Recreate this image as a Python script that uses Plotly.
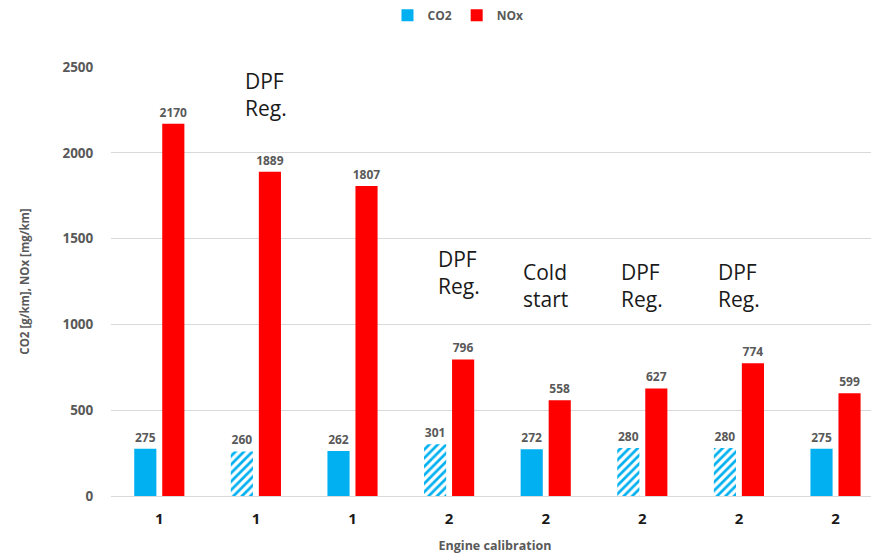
import plotly.graph_objects as go

# ---- data ----
tick_labels = ["1", "1", "1", "2", "2", "2", "2", "2"]
co2 = [275, 260, 262, 301, 272, 280, 280, 275]
nox = [2170, 1889, 1807, 796, 558, 627, 774, 599]
co2_hatched = [False, True, False, True, False, True, True, False]
notes = ["", "DPF<br>Reg.", "", "DPF<br>Reg.", "Cold<br>start", "DPF<br>Reg.", "DPF<br>Reg.", ""]
note_y = [None, 2170, None, 1130, 1055, 1055, 1055, None]

x = list(range(len(tick_labels)))

BLUE = "#00B0F0"
RED = "#FF0000"
GRAY = "#595959"
FONT = "Open Sans"

fig = go.Figure()
fig.add_trace(go.Bar(
    x=x, y=co2, name="CO2",
    marker=dict(
        color=BLUE,
        line=dict(width=0),
        pattern=dict(
            shape=["/" if h else "" for h in co2_hatched],
            fgcolor=BLUE, bgcolor="white", fillmode="replace",
            size=6, solidity=0.45,
        ),
    ),
    text=[str(v) for v in co2], textposition="outside", constraintext="none",
    textfont=dict(size=12, color=GRAY, family=FONT, weight="bold"),
    cliponaxis=False,
))
fig.add_trace(go.Bar(
    x=x, y=nox, name="NOx",
    marker=dict(color=RED, line=dict(width=0)),
    text=[str(v) for v in nox], textposition="outside", constraintext="none",
    textfont=dict(size=12, color=GRAY, family=FONT, weight="bold"),
    cliponaxis=False,
))

for i, (t, yy) in enumerate(zip(notes, note_y)):
    if t:
        fig.add_annotation(
            x=i, y=yy, xref="x", yref="y", text=t, showarrow=False,
            xanchor="center", yanchor="bottom", align="left",
            xshift=10 if i in (1, 3) else 0,
            font=dict(size=21, color="#1a1a1a", family=FONT),
        )

# page body has an 8px margin, so the figure is drawn 8px in from the window edge
fig.update_layout(
    width=871, height=549,
    margin=dict(l=103, r=0, t=59, b=61),
    paper_bgcolor="white", plot_bgcolor="white",
    bargap=0.42, bargroupgap=0.21,
    font=dict(family=FONT, color=GRAY),
    showlegend=True,
    legend=dict(
        orientation="h", x=0.36, xanchor="left", y=0.987, yanchor="middle",
        yref="container",
        font=dict(size=12, color=GRAY, family=FONT, weight="bold"),
        itemwidth=30, traceorder="normal",
    ),
    xaxis=dict(
        range=[-0.5, 7.45], tickmode="array", tickvals=x, ticktext=tick_labels,
        tickfont=dict(size=15, color="#1a1a1a", family=FONT, weight="bold"),
        ticks="outside", ticklen=9, tickcolor="rgba(0,0,0,0)",
        showline=True, linecolor="#D9D9D9", linewidth=1, showgrid=False,
        zeroline=False,
        title=dict(text="Engine calibration", standoff=14,
                   font=dict(size=12.5, color=GRAY, family=FONT, weight="bold")),
    ),
    yaxis=dict(
        range=[0, 2500], dtick=500, showgrid=True, gridcolor="#D9D9D9",
        gridwidth=1, zeroline=False, showline=False,
        tickfont=dict(size=13.5, color=GRAY, family=FONT, weight="bold"),
        ticks="outside", ticklen=14, tickcolor="rgba(0,0,0,0)",
        title=dict(text="CO2 [g/km], NOx [mg/km]", standoff=30,
                   font=dict(size=11.5, color=GRAY, family=FONT, weight="bold")),
    ),
)

fig.write_html("out.html")
